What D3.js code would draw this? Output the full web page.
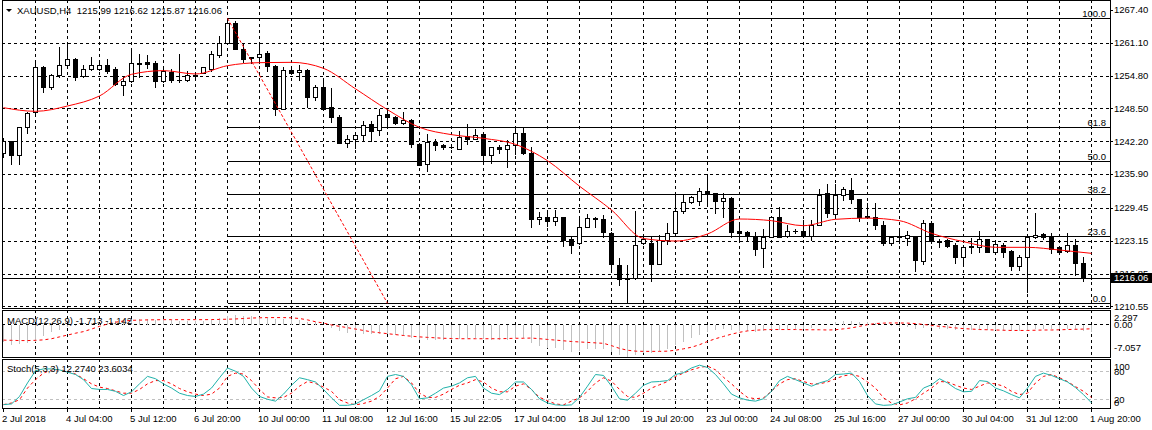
<!DOCTYPE html>
<html><head><meta charset="utf-8">
<script src="https://cdn.jsdelivr.net/npm/d3@7"></script>
<style>
body{margin:0;background:#fff}
svg{display:block}
text{font-family:'Liberation Sans',Arial,sans-serif;font-size:9.5px;fill:#000}
</style></head>
<body><svg id="c" width="1152" height="430"></svg>
<script>
// ---------------- DATA ----------------
const symbolTitle = "XAUUSD,H4  1215.99 1216.62 1215.87 1216.06";
const macdTitle = "MACD(12,26,9) -1.713 -1.142";
const stochTitle = "Stoch(5,3,3) 12.2740 23.6034";
const timeLabels = ["2 Jul 2018","4 Jul 04:00","5 Jul 12:00","6 Jul 20:00","10 Jul 00:00","11 Jul 08:00","12 Jul 16:00","15 Jul 22:05","17 Jul 04:00","18 Jul 12:00","19 Jul 20:00","23 Jul 00:00","24 Jul 08:00","25 Jul 16:00","27 Jul 00:00","30 Jul 04:00","31 Jul 12:00","1 Aug 20:00"];
const priceTicks = [1267.40,1261.10,1254.80,1248.50,1242.20,1235.90,1229.45,1223.15,1216.85,1210.55];
const macdTicks = [2.297,0.00,-7.057];
const stochTicks = [100,80,20,0];
const bidPrice = 1216.06;
const fibHigh = 1265.77, fibLow = 1211.14;
const fibBars = [28,48];
const fibLevels = [100.0,61.8,50.0,38.2,23.6,0.0];

const open = [1239.89,1242.19,1239.51,1245.00,1247.88,1256.37,1252.67,1254.84,1256.76,1257.91,
1254.71,1255.99,1256.12,1256.76,1255.99,1253.05,1253.69,1257.20,1257.30,1257.14,
1253.69,1255.48,1254.00,1253.95,1254.75,1255.35,1256.12,1258.67,1261.10,1264.81,
1259.95,1258.29,1258.29,1259.19,1256.63,1248.45,1255.86,1255.48,1255.86,1250.63,
1252.54,1248.71,1246.92,1241.94,1242.57,1243.47,1245.51,1244.36,1247.43,1246.92,
1245.77,1246.28,1241.68,1237.84,1242.06,1241.42,1241.17,1240.78,1243.21,1242.70,
1243.59,1239.50,1241.17,1240.65,1241.42,1243.72,1239.89,1227.24,1227.62,1226.98,
1227.62,1223.40,1222.64,1225.83,1227.49,1227.24,1224.68,1218.55,1216.00,1216.00,
1222.64,1222.77,1218.68,1223.28,1224.55,1228.90,1230.56,1230.69,1232.73,1232.22,
1230.81,1231.33,1224.94,1224.81,1223.92,1221.68,1223.92,1227.75,1224.04,1225.06,
1225.06,1224.04,1226.09,1232.22,1228.26,1231.97,1232.86,1231.07,1227.80,1227.62,
1226.09,1222.64,1223.85,1223.66,1223.92,1219.19,1226.47,1223.15,1223.28,1222.25,
1220.08,1222.05,1221.87,1223.40,1221.04,1222.38,1221.10,1218.29,1219.95,1223.79,
1224.43,1223.92,1221.87,1221.10,1222.25,1218.80,1215.99];
const high = [1242.76,1242.19,1245.00,1247.88,1257.27,1256.63,1255.10,1260.34,1261.10,1258.10,
1256.76,1258.42,1257.27,1257.91,1256.37,1254.46,1259.57,1258.93,1258.70,1257.65,
1256.12,1256.12,1258.93,1255.61,1255.10,1256.37,1259.44,1262.38,1265.70,1265.32,
1260.85,1258.29,1260.85,1259.44,1256.76,1256.50,1255.99,1256.76,1255.99,1252.92,
1254.07,1252.41,1247.30,1243.47,1243.98,1246.02,1246.15,1248.32,1248.00,1247.05,
1247.87,1246.40,1241.93,1243.59,1242.57,1241.68,1241.42,1244.23,1245.51,1244.62,
1243.72,1241.17,1241.42,1242.44,1244.68,1244.74,1241.17,1228.71,1228.90,1229.03,
1227.75,1223.79,1227.24,1228.26,1227.75,1228.07,1224.81,1219.83,1218.42,1228.77,
1223.92,1223.92,1224.30,1226.47,1231.97,1231.97,1231.71,1233.24,1235.42,1232.35,
1232.22,1231.58,1226.34,1224.94,1224.81,1225.32,1227.88,1229.54,1226.09,1225.45,
1227.11,1227.11,1232.99,1234.01,1234.01,1233.50,1235.16,1231.07,1230.30,1230.43,
1226.85,1224.04,1225.06,1225.06,1223.92,1227.11,1226.98,1223.53,1223.53,1222.64,
1222.25,1223.66,1225.06,1223.53,1222.64,1222.64,1221.36,1220.34,1223.92,1228.52,
1224.55,1224.68,1222.13,1224.68,1223.53,1220.08,1216.62];
const low = [1239.25,1237.85,1237.85,1243.85,1247.69,1251.65,1252.29,1254.46,1256.76,1253.95,
1254.46,1255.86,1255.86,1255.22,1252.92,1251.14,1253.56,1254.46,1256.25,1252.67,
1253.56,1253.56,1253.56,1253.69,1254.59,1255.22,1255.61,1258.29,1260.97,1259.82,
1257.40,1257.27,1257.27,1255.61,1247.17,1248.45,1255.10,1253.95,1248.71,1250.11,
1248.32,1245.90,1241.81,1241.17,1240.91,1242.19,1242.19,1243.47,1245.26,1245.51,
1245.51,1241.04,1237.59,1236.44,1240.53,1240.78,1240.91,1240.78,1241.68,1242.57,
1238.48,1238.10,1239.89,1237.33,1239.76,1239.76,1225.83,1226.34,1225.96,1226.09,
1222.13,1220.85,1222.51,1225.70,1225.83,1223.92,1217.65,1214.59,1211.46,1215.87,
1222.51,1215.48,1218.68,1222.51,1224.43,1228.52,1230.43,1230.05,1230.30,1228.52,
1227.75,1223.79,1223.53,1223.28,1220.34,1218.04,1223.79,1223.79,1223.79,1224.68,
1223.92,1223.28,1226.09,1227.75,1228.00,1230.94,1230.43,1226.98,1227.62,1225.45,
1222.25,1222.25,1222.76,1222.25,1217.40,1218.68,1222.64,1221.87,1221.87,1218.93,
1218.93,1220.85,1220.98,1220.98,1220.85,1220.08,1217.53,1217.53,1213.37,1223.66,
1223.53,1220.85,1220.85,1220.98,1216.50,1215.48,1215.87];
const close = [1242.19,1239.51,1245.00,1247.56,1256.37,1252.67,1254.84,1256.76,1257.91,1254.59,
1255.99,1256.76,1256.76,1255.74,1253.18,1253.82,1257.14,1257.00,1257.00,1253.69,
1255.74,1253.95,1253.85,1254.84,1254.84,1256.37,1258.93,1261.10,1264.81,1259.95,
1257.91,1258.16,1258.93,1256.63,1248.45,1255.86,1255.22,1255.86,1250.63,1252.54,
1248.45,1246.92,1241.94,1242.57,1243.47,1245.26,1244.23,1247.30,1246.79,1245.77,
1246.28,1241.68,1237.72,1242.06,1241.42,1241.04,1241.04,1243.08,1242.70,1243.47,
1239.50,1241.04,1240.65,1241.55,1243.72,1239.89,1227.24,1227.62,1226.98,1227.62,
1223.28,1222.38,1225.83,1227.43,1227.24,1224.81,1218.68,1215.74,1215.74,1222.38,
1223.40,1218.68,1223.28,1224.55,1228.77,1230.56,1231.45,1232.73,1232.09,1230.81,
1231.33,1224.81,1224.68,1224.04,1221.61,1223.92,1227.75,1223.92,1225.06,1225.00,
1224.04,1226.09,1231.97,1228.39,1231.84,1232.99,1231.07,1227.62,1227.75,1226.09,
1222.64,1223.92,1223.79,1224.17,1219.44,1226.47,1223.02,1222.89,1222.13,1220.08,
1221.87,1222.00,1223.40,1221.04,1222.51,1220.98,1218.29,1220.08,1223.79,1224.30,
1223.79,1221.49,1220.98,1222.25,1218.80,1216.12,1216.06];
// moving average read every 4th bar (bars 0,4,8,...,136)
const maStep = 4;
const maValues = [1248.64,1247.94,1248.96,1250.88,1255.03,1255.74,1255.10,1256.69,1257.27,1257.33,
1256.18,1252.25,1248.25,1244.87,1243.47,1242.76,1241.61,1238.48,1233.59,1229.03,
1223.56,1223.08,1224.43,1227.30,1226.98,1226.02,1227.24,1227.47,1226.98,1224.55,
1222.96,1221.87,1221.87,1221.36,1220.72];
const macdMain = [-3.8,-4.4,-4.3,-4.1,-3.7,-2.5,-1.7,-1.1,-0.6,-0.35,
-0.15,0.05,0.2,0.5,0.6,0.6,0.75,0.9,0.9,0.8,
0.75,0.7,0.65,0.6,0.6,0.65,0.8,1.2,1.7,1.8,
1.7,1.6,1.5,1.3,0.9,1.0,0.9,0.7,0.4,0.25,
-0.2,-0.8,-1.5,-1.8,-2.0,-2.0,-2.1,-2.0,-2.1,-2.3,
-2.4,-2.9,-3.4,-3.3,-3.3,-3.3,-3.3,-3.1,-3.0,-2.9,
-3.2,-3.3,-3.3,-3.3,-3.0,-3.0,-4.1,-4.6,-5.0,-5.2,
-5.6,-5.9,-5.7,-5.4,-5.3,-5.4,-6.0,-6.6,-7.0,-6.6,
-6.2,-6.1,-5.7,-5.3,-4.5,-3.7,-2.9,-2.2,-1.6,-1.2,
-0.9,-1.2,-1.3,-1.4,-1.6,-1.5,-1.1,-1.1,-1.0,-0.9,
-0.9,-0.7,-0.2,-0.1,0.25,0.5,0.6,0.4,0.3,0.15,
-0.2,-0.4,-0.5,-0.6,-1.0,-0.7,-0.8,-0.9,-1.0,-1.2,
-1.2,-1.2,-1.1,-1.2,-1.2,-1.3,-1.5,-1.5,-1.3,-1.0,
-0.9,-0.9,-1.0,-0.9,-1.2,-1.5,-1.713];
const macdSignal = [-3.6,-3.65,-3.7,-3.7,-3.65,-3.55,-3.3,-2.9,-2.5,-2.1,
-1.75,-1.2,-0.6,-0.1,0.3,0.55,0.7,0.75,0.8,0.82,
0.85,0.85,0.85,0.85,0.85,0.85,0.87,0.9,0.95,1.0,
1.1,1.2,1.25,1.3,1.3,1.3,1.25,1.1,0.8,0.4,
0.1,-0.3,-0.6,-0.9,-1.2,-1.5,-1.8,-2.0,-2.2,-2.4,
-2.6,-2.75,-2.9,-3.0,-3.1,-3.2,-3.25,-3.3,-3.3,-3.3,
-3.3,-3.3,-3.3,-3.25,-3.2,-3.2,-3.15,-3.3,-3.45,-3.6,
-3.75,-3.9,-4.0,-4.1,-4.2,-4.3,-4.8,-5.4,-5.8,-6.0,
-6.05,-6.05,-6.05,-6.0,-5.8,-5.5,-5.15,-4.6,-3.9,-3.3,
-2.8,-2.3,-1.9,-1.6,-1.45,-1.35,-1.3,-1.3,-1.3,-1.3,
-1.35,-1.35,-1.35,-1.4,-1.35,-1.15,-0.95,-0.6,-0.25,0.0,
0.1,0.13,0.13,0.1,0.0,-0.2,-0.4,-0.6,-0.75,-0.95,
-1.1,-1.2,-1.3,-1.35,-1.4,-1.45,-1.5,-1.5,-1.5,-1.45,
-1.4,-1.4,-1.35,-1.3,-1.25,-1.2,-1.142];
const stochMain = [8.5,10,26,55,81,85,85,83,78,73,
62,43,41,41,37,28,36,53,69,64,
53,44,33,28,26,31,44,66,87,80,
69,44,26,20,16,31,50,66,62,57,
41,23,7,7,10,19,28,38,69,73,
69,51,21,23,33,44,48,55,66,69,
44,33,30,41,57,57,41,21,12,8,
7,8,24,48,73,71,48,21,18,33,
50,57,58,60,73,77,87,93,88,73,
53,31,23,18,16,21,37,60,69,62,
55,48,55,60,73,74,76,58,28,10,
7,8,14,21,24,44,51,64,55,43,
36,37,60,58,44,38,30,23,44,69,
76,71,64,57,45,30,12.274];
const stochSignal = [8.5,12,19,44,62,76,83,83,80,74,
64,53,46,43,38,33,33,41,53,60,
60,53,43,36,31,28,31,44,69,76,
74,60,41,25,23,24,33,48,58,54,
46,37,19,12,8,11,16,26,44,64,
69,55,33,24,24,31,41,50,55,62,
57,44,36,36,48,53,41,24,17,10,
8,16,23,37,55,66,59,41,26,24,
33,44,51,58,69,76,83,88,91,83,
67,53,37,24,21,23,37,53,62,64,
58,53,53,57,64,70,73,69,57,44,
23,12,8,12,21,33,44,58,57,50,
44,41,48,55,53,48,37,30,33,55,
69,73,66,58,47,37,23.6034];

// ---------------- LAYOUT ----------------
const svg = d3.select('#c');
const L = 2, R = 1110;
const P = {main:[0,309], macd:[310,358], stoch:[359,409]};
const n = open.length;
const x = d3.scaleLinear().domain([0, n-1]).range([3, 1091]);
const yP = d3.scaleLinear().domain([1210.55, 1267.40]).range([306.4, 9.8]);
const yM = d3.scaleLinear().domain([-7.057, 2.297]).range([356, 313]);
const yS = d3.scaleLinear().domain([0, 100]).range([408.6, 361.9]);
const px = v => Math.round(v) + 0.5;

const defs = svg.append('defs');
for (const k in P) {
  defs.append('clipPath').attr('id','clip-'+k).append('rect')
    .attr('x', L+1).attr('y', P[k][0]+1).attr('width', R-L-1).attr('height', P[k][1]-P[k][0]-1);
}
const gMain = svg.append('g').attr('clip-path','url(#clip-main)');
const gMacd = svg.append('g').attr('clip-path','url(#clip-macd)');
const gSto = svg.append('g').attr('clip-path','url(#clip-stoch)');

const dash = '3,3';
// vertical grid in all panels
const gridBars = d3.range(4, n, 4);
[[gMain,'main'],[gMacd,'macd'],[gSto,'stoch']].forEach(([g,k]) => {
  g.selectAll(null).data(gridBars).join('line')
    .attr('x1', d => px(x(d))).attr('x2', d => px(x(d)))
    .attr('y1', P[k][0]).attr('y2', P[k][1])
    .attr('stroke','#000').attr('stroke-dasharray',dash).attr('shape-rendering','crispEdges');
});
// horizontal grid, main
gMain.selectAll(null).data(priceTicks.slice(1)).join('line')
  .attr('x1', L).attr('x2', R).attr('y1', d => px(yP(d))).attr('y2', d => px(yP(d)))
  .attr('stroke','#000').attr('stroke-dasharray',dash).attr('shape-rendering','crispEdges');
// macd zero grid
gMacd.append('line').attr('x1',L).attr('x2',R).attr('y1',px(yM(0))).attr('y2',px(yM(0)))
  .attr('stroke','#000').attr('stroke-dasharray',dash).attr('shape-rendering','crispEdges');
// stoch levels
gSto.selectAll(null).data([80,20]).join('line')
  .attr('x1',L).attr('x2',R).attr('y1',d=>px(yS(d))).attr('y2',d=>px(yS(d)))
  .attr('stroke','#c0c0c0').attr('stroke-dasharray',dash).attr('shape-rendering','crispEdges');

// fibonacci
const fibPrice = lv => fibLow + (fibHigh - fibLow) * lv / 100;
gMain.selectAll(null).data(fibLevels).join('line')
  .attr('x1', px(x(fibBars[0]))).attr('x2', R)
  .attr('y1', d => px(yP(fibPrice(d)))).attr('y2', d => px(yP(fibPrice(d))))
  .attr('stroke','#000').attr('shape-rendering','crispEdges');
gMain.selectAll(null).data(fibLevels).join('text')
  .attr('x', 1106).attr('y', d => yP(fibPrice(d)) - 4.5).attr('dy','0.35em')
  .attr('text-anchor','end').text(d => d.toFixed(1));

// bid line
gMain.append('line').attr('x1',L).attr('x2',R).attr('y1',px(yP(bidPrice))).attr('y2',px(yP(bidPrice)))
  .attr('stroke','#000').attr('shape-rendering','crispEdges');

// candles
const idx = d3.range(n);
const gC = gMain.append('g');
idx.forEach(i => {
  const cx = Math.round(x(i));
  gC.append('line').attr('x1', cx+0.5).attr('x2', cx+0.5)
    .attr('y1', Math.round(yP(high[i]))).attr('y2', Math.round(yP(low[i]))+1)
    .attr('stroke','#000').attr('shape-rendering','crispEdges');
  const yo = Math.round(yP(open[i])), yc = Math.round(yP(close[i]));
  if (Math.abs(yo - yc) < 1) {
    gC.append('line').attr('x1', cx-2).attr('x2', cx+3).attr('y1', yo+0.5).attr('y2', yo+0.5)
      .attr('stroke','#000').attr('shape-rendering','crispEdges');
  } else {
    gC.append('rect').attr('x', cx-1.5).attr('width', 4)
      .attr('y', Math.min(yo,yc)+0.5).attr('height', Math.abs(yo-yc))
      .attr('fill', close[i] < open[i] ? '#000' : '#fff')
      .attr('stroke','#000').attr('shape-rendering','crispEdges');
  }
});

// moving average
gMain.append('path').datum(maValues)
  .attr('d', d3.line().x((d,k) => x(k*maStep)+0.5).y(d => yP(d)).curve(d3.curveMonotoneX))
  .attr('fill','none').attr('stroke','#ff0000').attr('stroke-width',1);
// fib trend line
gMain.append('line')
  .attr('x1', x(fibBars[0])+0.5).attr('y1', yP(fibHigh))
  .attr('x2', x(fibBars[1])+0.5).attr('y2', yP(fibLow))
  .attr('stroke','#ff0000').attr('stroke-dasharray','3,2');

// MACD histogram and signal
gMacd.selectAll(null).data(idx).join('line')
  .attr('x1', i => px(x(i))).attr('x2', i => px(x(i)))
  .attr('y1', Math.round(yM(0))+1).attr('y2', i => Math.round(yM(macdMain[i]))+ (macdMain[i]<0?1:0))
  .attr('stroke','#c0c0c0').attr('shape-rendering','crispEdges');
gMacd.append('path').datum(macdSignal)
  .attr('d', d3.line().x((d,i) => x(i)+0.5).y(d => yM(d)))
  .attr('fill','none').attr('stroke','#ff0000').attr('stroke-dasharray','3,3');

// Stochastic
gSto.append('path').datum(stochSignal)
  .attr('d', d3.line().x((d,i) => x(i)+0.5).y(d => yS(d)))
  .attr('fill','none').attr('stroke','#ff0000').attr('stroke-dasharray','3,3');
gSto.append('path').datum(stochMain)
  .attr('d', d3.line().x((d,i) => x(i)+0.5).y(d => yS(d)))
  .attr('fill','none').attr('stroke','#20b2aa');

// panel borders
for (const k in P) {
  svg.append('rect').attr('x', L+0.5).attr('y', P[k][0]+0.5)
    .attr('width', R-L).attr('height', P[k][1]-P[k][0]-1)
    .attr('fill','none').attr('stroke','#000').attr('shape-rendering','crispEdges');
}

// titles
svg.append('path').attr('d','M6,9 L12,9 L9,12 Z').attr('fill','#000');
svg.append('text').attr('x',17).attr('y',11).attr('dy','0.35em').attr('xml:space','preserve').text(symbolTitle);
svg.append('text').attr('x',7).attr('y',320.5).attr('dy','0.35em').text(macdTitle);
svg.append('text').attr('x',7).attr('y',368.5).attr('dy','0.35em').text(stochTitle);

// right axis: main
const ax = svg.append('g');
ax.selectAll(null).data(priceTicks).join('line')
  .attr('x1',R).attr('x2',R+3).attr('y1',d=>px(yP(d))).attr('y2',d=>px(yP(d)))
  .attr('stroke','#000').attr('shape-rendering','crispEdges');
ax.selectAll(null).data(priceTicks).join('text')
  .attr('x',1114).attr('y',d=>yP(d)).attr('dy','0.35em').text(d=>d.toFixed(2));
ax.append('rect').attr('x',R+0.5).attr('y',Math.round(yP(bidPrice))-5).attr('width',1152-R).attr('height',10).attr('fill','#000');
ax.append('text').attr('x',1114).attr('y',yP(bidPrice)).attr('dy','0.35em').style('fill','#fff').text(bidPrice.toFixed(2));
// macd axis
const macdOff = [5, 0.7, -8];
ax.selectAll(null).data(macdTicks).join('text')
  .attr('x',1114).attr('y',(d,i)=>yM(d)+macdOff[i]).attr('dy','0.35em')
  .text((d,i)=> i===1 ? d.toFixed(2) : d.toFixed(3));
// stoch axis
const stoOff = [5, 0, 0, -6];
ax.selectAll(null).data(stochTicks).join('text')
  .attr('x',1114).attr('y',(d,i)=>yS(d)+stoOff[i]).attr('dy','0.35em').text(d=>d);

// time axis
const labelBars = timeLabels.map((t,k) => k*8);
ax.selectAll(null).data(labelBars).join('line')
  .attr('x1',d=>px(x(d))).attr('x2',d=>px(x(d))).attr('y1',P.stoch[1]).attr('y2',P.stoch[1]+3)
  .attr('stroke','#000').attr('shape-rendering','crispEdges');
ax.selectAll(null).data(timeLabels).join('text')
  .attr('x',(d,k)=>x(labelBars[k])-1).attr('y',418.5).attr('dy','0.35em').text(d=>d);
</script></body></html>
